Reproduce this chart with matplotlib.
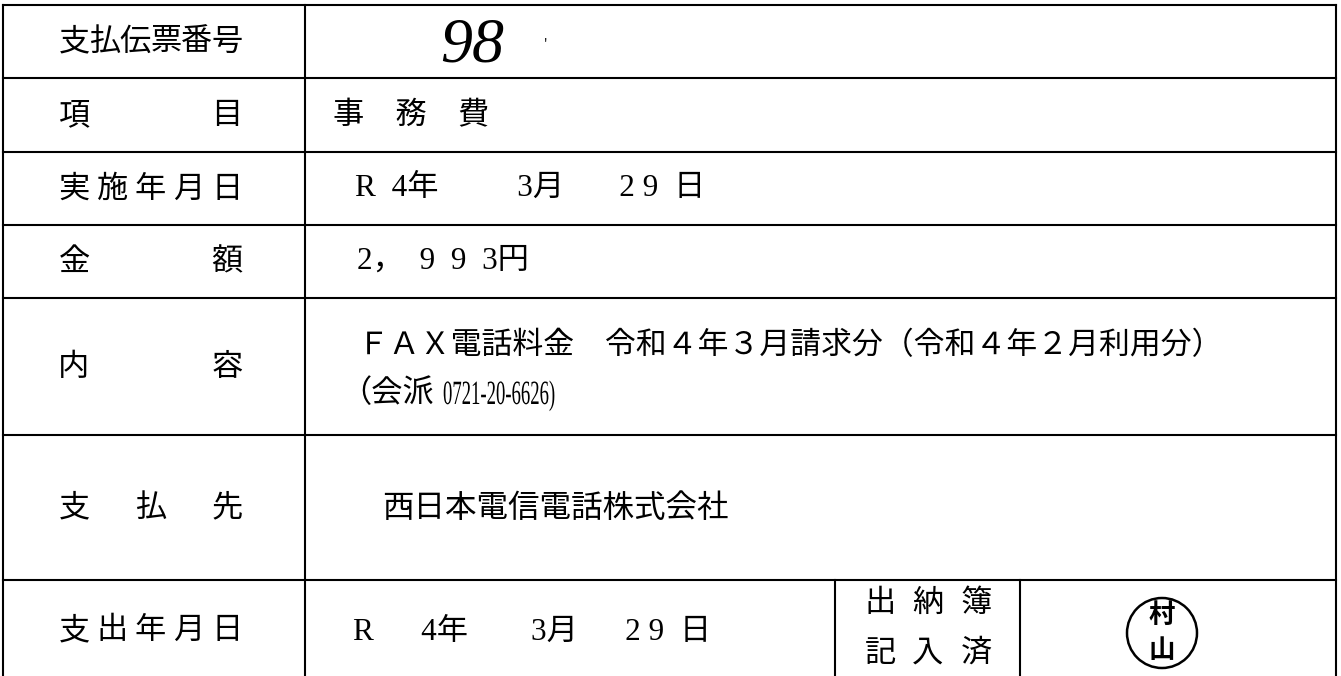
import matplotlib
matplotlib.use('Agg')
import matplotlib.pyplot as plt
from matplotlib.patches import Circle, PathPatch
from matplotlib.textpath import TextPath
from matplotlib.font_manager import FontProperties
from matplotlib.transforms import Affine2D

plt.rcParams['font.family'] = ['Noto Sans CJK JP', 'DejaVu Sans']
SERIF = ['Liberation Serif', 'Noto Sans CJK JP']

# form contents
labels = ['支払伝票番号', '項目', '実施年月日', '金額', '内容', '支払先', '支出年月日']
slip_no = '98'
item = '事　務　費'
exec_date = 'R  4年' + ' ' * 10 + '3月' + ' ' * 7 + '2 9  日'
amount = '2，  9  9  3円'
detail_1 = 'ＦＡＸ電話料金　令和４年３月請求分（令和４年２月利用分）'
detail_2 = ('（会派', '0721-20-6626)')
payee = '西日本電信電話株式会社'
pay_date = 'R' + ' ' * 6 + '4年' + ' ' * 8 + '3月' + ' ' * 6 + '2 9  日'
ledger = ['出納簿', '記入済']
stamp = ['村', '山']

# layout (pixels)
W, H = 1341, 676
row_lines = [5, 78, 152, 225, 298, 435, 580]
col_x = [3, 305, 1336]
bottom_cols = [835, 1020]
fs = 22.5

fig = plt.figure(figsize=(W / 100, H / 100), dpi=100)
ax = fig.add_axes([0, 0, 1, 1])
ax.set_xlim(0, W)
ax.set_ylim(H, 0)
ax.axis('off')


def spread(text, x0, x1, y, **kw):
    # 均等割付: spread characters evenly between x0 and x1
    n = len(text)
    for k, ch in enumerate(text):
        xc = x0 + (x1 - x0) * k / (n - 1) if n > 1 else (x0 + x1) / 2
        ax.text(xc, y, ch, ha='center', va='center', **kw)


def narrow(text, x, baseline, size_px, sx):
    # horizontally condensed serif text (y axis is flipped)
    tp = TextPath((0, 0), text, size=size_px, prop=FontProperties(family='Liberation Serif'))
    tr = Affine2D().scale(sx, -1).translate(x, baseline) + ax.transData
    ax.add_patch(PathPatch(tp, transform=tr, fc='black', ec='none'))


lw = 1.5
for y in row_lines:
    ax.plot([col_x[0], col_x[2]], [y, y], color='black', lw=lw)
for x in col_x:
    ax.plot([x, x], [row_lines[0], H], color='black', lw=lw)
for x in bottom_cols:
    ax.plot([x, x], [row_lines[-1], H], color='black', lw=lw)

bounds = row_lines + [H + 4]
centers = [(bounds[i] + bounds[i + 1]) / 2 for i in range(len(labels))]

for lab, yc in zip(labels, centers):
    spread(lab, 74, 227, yc, fontsize=fs)

# value column
ax.text(440, centers[0] + 5, slip_no, fontsize=46, family='Liberation Serif',
        style='italic', ha='left', va='center')
ax.text(546, 44, "'", fontsize=9, ha='center', va='center')
ax.text(333, centers[1], item, fontsize=fs, ha='left', va='center')
ax.text(355, centers[2], exec_date, fontsize=fs, family=SERIF, ha='left', va='center')
ax.text(357, centers[3], amount, fontsize=fs, family=SERIF, ha='left', va='center')
ax.text(358, 346, detail_1, fontsize=22.2, ha='left', va='center')
ax.text(340, 393, detail_2[0], fontsize=fs, ha='left', va='center')
narrow(detail_2[1], 443, 404, 34, 0.55)
ax.text(382, centers[5], payee, fontsize=22.7, ha='left', va='center')
ax.text(353, centers[6] + 2, pay_date, fontsize=fs, family=SERIF, ha='left', va='center')

# ledger box and seal
spread(ledger[0], 880, 976, 603, fontsize=fs)
spread(ledger[1], 880, 976, 653, fontsize=fs)
ax.add_patch(Circle((1162, 633), 35, fill=False, ec='black', lw=1.8))
ax.text(1162, 615, stamp[0], fontsize=19, ha='center', va='center', fontweight='bold')
ax.text(1162, 650, stamp[1], fontsize=19, ha='center', va='center', fontweight='bold')

fig.savefig('out.png', dpi=100, facecolor='white')
